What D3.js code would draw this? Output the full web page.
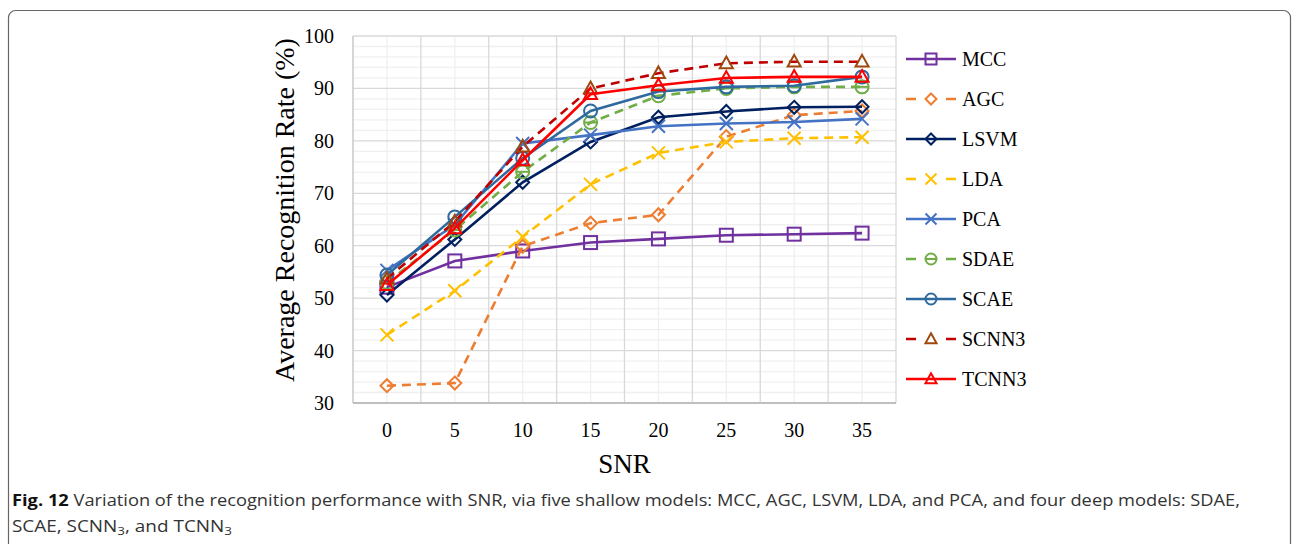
<!DOCTYPE html>
<html>
<head>
<meta charset="utf-8">
<script src="https://cdn.jsdelivr.net/npm/d3@7"></script>
<style>
  body { margin: 0; background: #fff; }
  svg { display: block; }
  .tick-label { font-family: "Liberation Serif", "Times New Roman", serif; font-size: 20px; fill: #000; }
  .axis-title { font-family: "Liberation Serif", "Times New Roman", serif; font-size: 27px; fill: #000; }
  .legend-label { font-family: "Liberation Serif", "Times New Roman", serif; font-size: 20px; fill: #000; }
  .caption { font-family: "Open Sans", "Noto Sans", sans-serif; font-size: 15.5px; fill: #333; }
</style>
</head>
<body>
<svg id="chart" width="1292" height="544"></svg>
<script>
/**
 * Data.
 */
const snrLabels = ['0', '5', '10', '15', '20', '25', '30', '35'];
const yTicks = [30, 40, 50, 60, 70, 80, 90, 100];

const mcc   = [52.1, 57.1, 59.0, 60.6, 61.3, 62.0, 62.2, 62.4];
const agc   = [33.3, 33.8, 59.9, 64.3, 65.9, 80.8, 84.9, 85.7];
const lsvm  = [50.6, 61.2, 72.1, 79.8, 84.5, 85.6, 86.4, 86.5];
const lda   = [43.0, 51.4, 61.7, 71.7, 77.7, 79.8, 80.5, 80.7];
const pca   = [55.3, 64.0, 79.5, 81.1, 82.8, 83.3, 83.6, 84.2];
const sdae  = [53.0, 63.0, 74.1, 83.5, 88.6, 90.0, 90.3, 90.3];
const scae  = [54.4, 65.5, 76.7, 85.7, 89.4, 90.3, 90.5, 92.2];
const scnn3 = [53.7, 64.6, 78.9, 90.0, 92.9, 94.8, 95.1, 95.1];
const tcnn3 = [52.5, 63.3, 76.3, 88.9, 90.6, 92.0, 92.2, 92.2];

const series = [
    { name: 'MCC',   values: mcc,   color: '#7030a0', marker: 'square',   dashed: false },
    { name: 'AGC',   values: agc,   color: '#ed7d31', marker: 'diamond',  dashed: true },
    { name: 'LSVM',  values: lsvm,  color: '#002060', marker: 'diamond',  dashed: false },
    { name: 'LDA',   values: lda,   color: '#ffc000', marker: 'x',        dashed: true },
    { name: 'PCA',   values: pca,   color: '#4472c4', marker: 'x',        dashed: false },
    { name: 'SDAE',  values: sdae,  color: '#70ad47', marker: 'circleBar', dashed: true },
    { name: 'SCAE',  values: scae,  color: '#2e6a9e', marker: 'circle',   dashed: false },
    { name: 'SCNN3', values: scnn3, color: '#c00000', markerColor: '#9e480e', marker: 'triangle', dashed: true },
    { name: 'TCNN3', values: tcnn3, color: '#ff0000', marker: 'triangle', dashed: false }
];

/**
 * Layout.
 */
const plot = { left: 353, right: 896, top: 36, bottom: 403 };
const svg = d3.select('#chart');

// Figure frame
svg.append('rect')
    .attr('x', 8.5).attr('y', 10.5)
    .attr('width', 1282).attr('height', 560)
    .attr('rx', 7)
    .attr('fill', 'none').attr('stroke', '#666').attr('stroke-width', 1.2);

const xScale = d3.scaleBand().domain(snrLabels).range([plot.left, plot.right]).paddingInner(0).paddingOuter(0);
const yScale = d3.scaleLinear().domain([30, 100]).range([plot.bottom, plot.top]);
const cx = c => xScale(c) + xScale.bandwidth() / 2;

/**
 * Grid.
 */
const grid = svg.append('g').attr('class', 'grid');
const minorY = d3.range(30, 100.1, 2).filter(v => v % 10 !== 0);
grid.selectAll('line.minor-y').data(minorY).enter().append('line')
    .attr('x1', plot.left).attr('x2', plot.right)
    .attr('y1', d => yScale(d)).attr('y2', d => yScale(d))
    .attr('stroke', '#f0f0f0').attr('stroke-width', 1.3);
grid.selectAll('line.minor-x').data(snrLabels).enter().append('line')
    .attr('x1', d => cx(d)).attr('x2', d => cx(d))
    .attr('y1', plot.top).attr('y2', plot.bottom)
    .attr('stroke', '#f0f0f0').attr('stroke-width', 1.3);
grid.selectAll('line.major-y').data(yTicks.slice(1)).enter().append('line')
    .attr('x1', plot.left).attr('x2', plot.right)
    .attr('y1', d => yScale(d)).attr('y2', d => yScale(d))
    .attr('stroke', '#d9d9d9').attr('stroke-width', 1.3);
grid.selectAll('line.major-x').data(snrLabels.slice(1).map(xScale).concat([plot.right])).enter().append('line')
    .attr('x1', d => d).attr('x2', d => d)
    .attr('y1', plot.top).attr('y2', plot.bottom)
    .attr('stroke', '#d9d9d9').attr('stroke-width', 1.3);

// Axis lines
svg.append('line')
    .attr('x1', plot.left).attr('x2', plot.left)
    .attr('y1', plot.top).attr('y2', plot.bottom)
    .attr('stroke', '#c8c8c8').attr('stroke-width', 1.5);
svg.append('line')
    .attr('x1', plot.left).attr('x2', plot.right)
    .attr('y1', plot.bottom).attr('y2', plot.bottom)
    .attr('stroke', '#bfbfbf').attr('stroke-width', 2);

/**
 * Tick labels and titles.
 */
svg.selectAll('text.y-tick').data(yTicks).enter().append('text')
    .attr('class', 'tick-label')
    .attr('x', 334).attr('y', d => yScale(d) + 7)
    .attr('text-anchor', 'end')
    .text(d => d);
svg.selectAll('text.x-tick').data(snrLabels).enter().append('text')
    .attr('class', 'tick-label')
    .attr('x', d => cx(d)).attr('y', 437)
    .attr('text-anchor', 'middle')
    .text(d => d);
svg.append('text').attr('class', 'axis-title')
    .attr('x', (plot.left + plot.right) / 2).attr('y', 473)
    .attr('text-anchor', 'middle')
    .text('SNR');
svg.append('text').attr('class', 'axis-title')
    .attr('transform', 'translate(294,210) rotate(-90)')
    .attr('text-anchor', 'middle')
    .style('font-size', '28px')
    .text('Average Recognition Rate (%)');

/**
 * Markers.
 */
function drawMarker(g, type, color, s) {
    const h = s / 2;
    const common = sel => sel.attr('fill', 'none').attr('stroke', color).attr('stroke-width', 2);
    if (type === 'square') {
        g.append('rect').attr('x', -h).attr('y', -h).attr('width', s).attr('height', s).call(common);
    } else if (type === 'diamond') {
        g.append('path').attr('d', `M0,${-h}L${h},0L0,${h}L${-h},0Z`).call(common);
    } else if (type === 'x') {
        g.append('path').attr('d', `M${-h},${-h}L${h},${h}M${-h},${h}L${h},${-h}`).call(common);
    } else if (type === 'circle' || type === 'circleBar') {
        g.append('circle').attr('r', h).call(common);
        if (type === 'circleBar') g.append('path').attr('d', `M${-h},0L${h},0`).call(common);
    } else if (type === 'triangle') {
        g.append('path').attr('d', `M0,${-h * 1.05}L${h},${h * 0.75}L${-h},${h * 0.75}Z`).call(common);
    }
}

/**
 * Series.
 */
const line = d3.line()
    .x((d, i) => cx(snrLabels[i]))
    .y(d => yScale(d));

const seriesG = svg.selectAll('g.series').data(series).enter().append('g').attr('class', 'series');
seriesG.append('path')
    .attr('d', d => line(d.values))
    .attr('fill', 'none')
    .attr('stroke', d => d.color)
    .attr('stroke-width', 2.6)
    .attr('stroke-dasharray', d => d.dashed ? '9,6' : null);
seriesG.each(function(d) {
    const g = d3.select(this);
    d.values.forEach((v, i) => {
        const m = g.append('g').attr('transform', `translate(${cx(snrLabels[i])},${yScale(v)})`);
        drawMarker(m, d.marker, d.markerColor || d.color, 13);
    });
});

/**
 * Legend.
 */
const legend = svg.selectAll('g.legend').data(series).enter().append('g')
    .attr('class', 'legend')
    .attr('transform', (d, i) => `translate(906,${59 + i * 40})`);
legend.append('path')
    .attr('d', d => d.dashed ? 'M0,0L10,0M40,0L50,0' : 'M0,0L50,0')
    .attr('stroke', d => d.color)
    .attr('stroke-width', 2.6);
legend.each(function(d) {
    const m = d3.select(this).append('g').attr('transform', 'translate(25,0)');
    drawMarker(m, d.marker, d.markerColor || d.color, 11);
});
legend.append('text')
    .attr('class', 'legend-label')
    .attr('x', 56).attr('y', 7)
    .text(d => d.name);

/**
 * Caption.
 */
const cap1 = svg.append('text').attr('class', 'caption')
    .attr('x', 12).attr('y', 506)
    .attr('textLength', 1228).attr('lengthAdjust', 'spacingAndGlyphs');
cap1.append('tspan').attr('font-weight', 'bold').attr('fill', '#111').text('Fig. 12');
cap1.append('tspan').text(' Variation of the recognition performance with SNR, via five shallow models: MCC, AGC, LSVM, LDA, and PCA, and four deep models: SDAE,');

const cap2 = svg.append('text').attr('class', 'caption')
    .attr('x', 12).attr('y', 532)
    .attr('textLength', 220).attr('lengthAdjust', 'spacingAndGlyphs');
cap2.append('tspan').text('SCAE, SCNN');
cap2.append('tspan').attr('font-size', '11px').attr('dy', 3).text('3');
cap2.append('tspan').attr('dy', -3).text(', and TCNN');
cap2.append('tspan').attr('font-size', '11px').attr('dy', 3).text('3');
</script>
</body>
</html>
